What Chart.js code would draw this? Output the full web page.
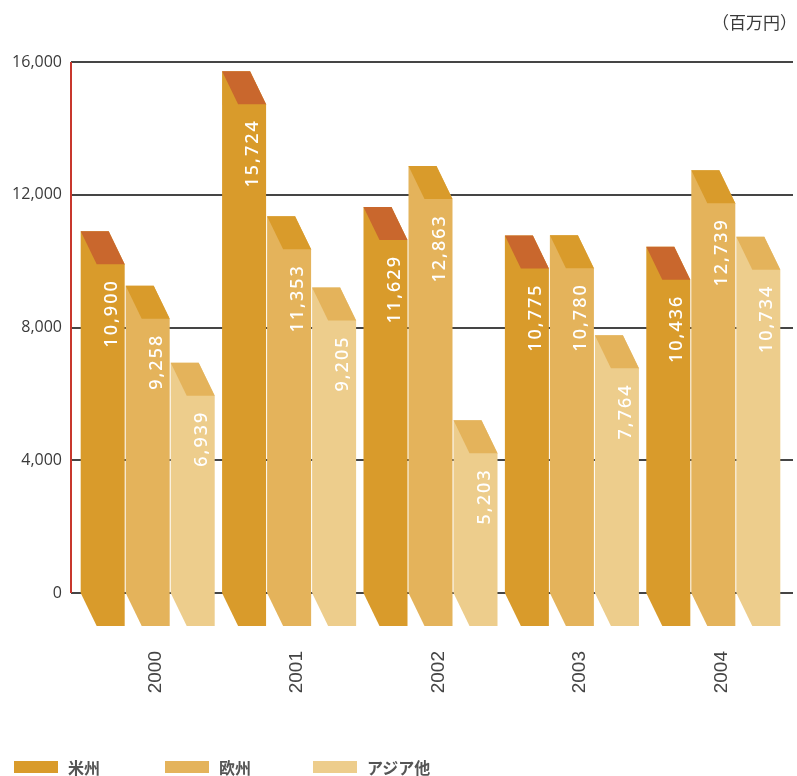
<!DOCTYPE html>
<html>
<head>
<meta charset="utf-8">
<script src="https://cdn.jsdelivr.net/npm/chart.js@4"></script>
<style>
  body { margin: 0; background: #fff; }
  #wrap { position: relative; width: 797px; height: 776px; }
  #unit { position: absolute; right: 0; top: 9px; font: 17px "Noto Sans CJK JP"; color: #3a3a3a; }
  .lg { position: absolute; top: 757px; font: bold 16px "Noto Sans CJK JP"; color: #555; line-height: 20px; }
  .lg i { position: absolute; left: 0; top: 4px; width: 44px; height: 12px; }
  .lg span { position: absolute; left: 54px; white-space: nowrap; }
</style>
</head>
<body>
<div id="wrap">
  <canvas id="c" width="797" height="776"></canvas>
  <div id="unit">（百万円）</div>
  <div id="legend"></div>
</div>
<script>
const years = ['2000', '2001', '2002', '2003', '2004'];
const americas = [10900, 15724, 11629, 10775, 10436];
const europe = [9258, 11353, 12863, 10780, 12739];
const asia = [6939, 9205, 5203, 7764, 10734];
const seriesNames = ['米州', '欧州', 'アジア他'];
const yTicks = [0, 4000, 8000, 12000, 16000];

const frontColors = ['#d99b2b', '#e4b35b', '#edcd8c'];
const topColors = ['#c9672d', '#d99b2b', '#e4b35b'];
const legendX = [14, 165, 313];

// depth of the fake 3d bars
const dx = 16, dy = 33;

// legend
const lg = document.getElementById('legend');
seriesNames.forEach((n, i) => {
    const d = document.createElement('div');
    d.className = 'lg';
    d.style.left = legendX[i] + 'px';
    d.innerHTML = '<i style="background:' + frontColors[i] + '"></i><span>' + n + '</span>';
    lg.appendChild(d);
});

const gridPlugin = {
    id: 'grid3d',
    beforeDatasetsDraw(chart) {
        const ctx = chart.ctx, a = chart.chartArea, y = chart.scales.y;
        ctx.save();
        ctx.strokeStyle = '#454545';
        ctx.lineWidth = 2;
        y.ticks.forEach(t => {
            const py = Math.round(y.getPixelForValue(t.value));
            ctx.beginPath();
            ctx.moveTo(a.left - 14, py);
            ctx.lineTo(a.right + 1, py);
            ctx.stroke();
        });
        ctx.strokeStyle = '#c8372d';
        ctx.beginPath();
        ctx.moveTo(a.left - 14, a.top);
        ctx.lineTo(a.left - 14, a.bottom);
        ctx.stroke();
        ctx.restore();
    },
    afterDatasetsDraw(chart) {
        const ctx = chart.ctx;
        ctx.save();
        chart.data.datasets.forEach((ds, di) => {
            chart.getDatasetMeta(di).data.forEach((el, i) => {
                const p = el.getProps(['x', 'y', 'base', 'width'], true);
                const fl = p.x - p.width / 2, fr = p.x + p.width / 2;
                ctx.fillStyle = frontColors[di];
                ctx.beginPath();
                ctx.moveTo(fl - dx, p.y);
                ctx.lineTo(fr - dx, p.y);
                ctx.lineTo(fr, p.y + dy);
                ctx.lineTo(fr, p.base + dy);
                ctx.lineTo(fl, p.base + dy);
                ctx.lineTo(fl - dx, p.base);
                ctx.closePath();
                ctx.fill();
                ctx.fillStyle = topColors[di];
                ctx.beginPath();
                ctx.moveTo(fl - dx, p.y);
                ctx.lineTo(fr - dx, p.y);
                ctx.lineTo(fr, p.y + dy);
                ctx.lineTo(fl, p.y + dy);
                ctx.closePath();
                ctx.fill();
                // value label
                ctx.save();
                ctx.translate(p.x, p.y + dy + 15);
                ctx.rotate(-Math.PI / 2);
                ctx.fillStyle = '#fff';
                ctx.font = '500 18px "Noto Sans"';
                ctx.letterSpacing = '2px';
                ctx.textAlign = 'right';
                ctx.textBaseline = 'middle';
                ctx.fillText(ds.data[i].toLocaleString('en-US'), 0, 1);
                ctx.restore();
            });
        });
        ctx.restore();
    }
};

new Chart(document.getElementById('c'), {
    type: 'bar',
    data: {
        labels: years,
        datasets: [
            { label: seriesNames[0], data: americas },
            { label: seriesNames[1], data: europe },
            { label: seriesNames[2], data: asia }
        ].map(d => Object.assign(d, {
            backgroundColor: 'rgba(0,0,0,0)',
            borderWidth: 0,
            categoryPercentage: 0.955,
            barPercentage: 0.622
        }))
    },
    options: {
        responsive: false,
        animation: false,
        layout: { padding: { top: 62, right: 5, left: 0, bottom: 0 } },
        plugins: { legend: { display: false }, tooltip: { enabled: false } },
        scales: {
            x: {
                grid: { display: false },
                border: { display: false },
                ticks: {
                    minRotation: 90, maxRotation: 90, padding: 50,
                    color: '#444', font: { family: 'Liberation Sans', size: 19 }
                },
                afterFit(s) { s.height = 183; }
            },
            y: {
                min: 0, max: 16000,
                afterBuildTicks(s) { s.ticks = yTicks.map(v => ({ value: v })); },
                grid: { display: false },
                border: { display: false },
                ticks: {
                    padding: 15, color: '#3a3a3a',
                    font: { family: 'Open Sans', size: 16 },
                    callback: v => v.toLocaleString('en-US')
                },
                afterFit(s) { s.width = 85; }
            }
        }
    },
    plugins: [gridPlugin]
});
</script>
</body>
</html>
